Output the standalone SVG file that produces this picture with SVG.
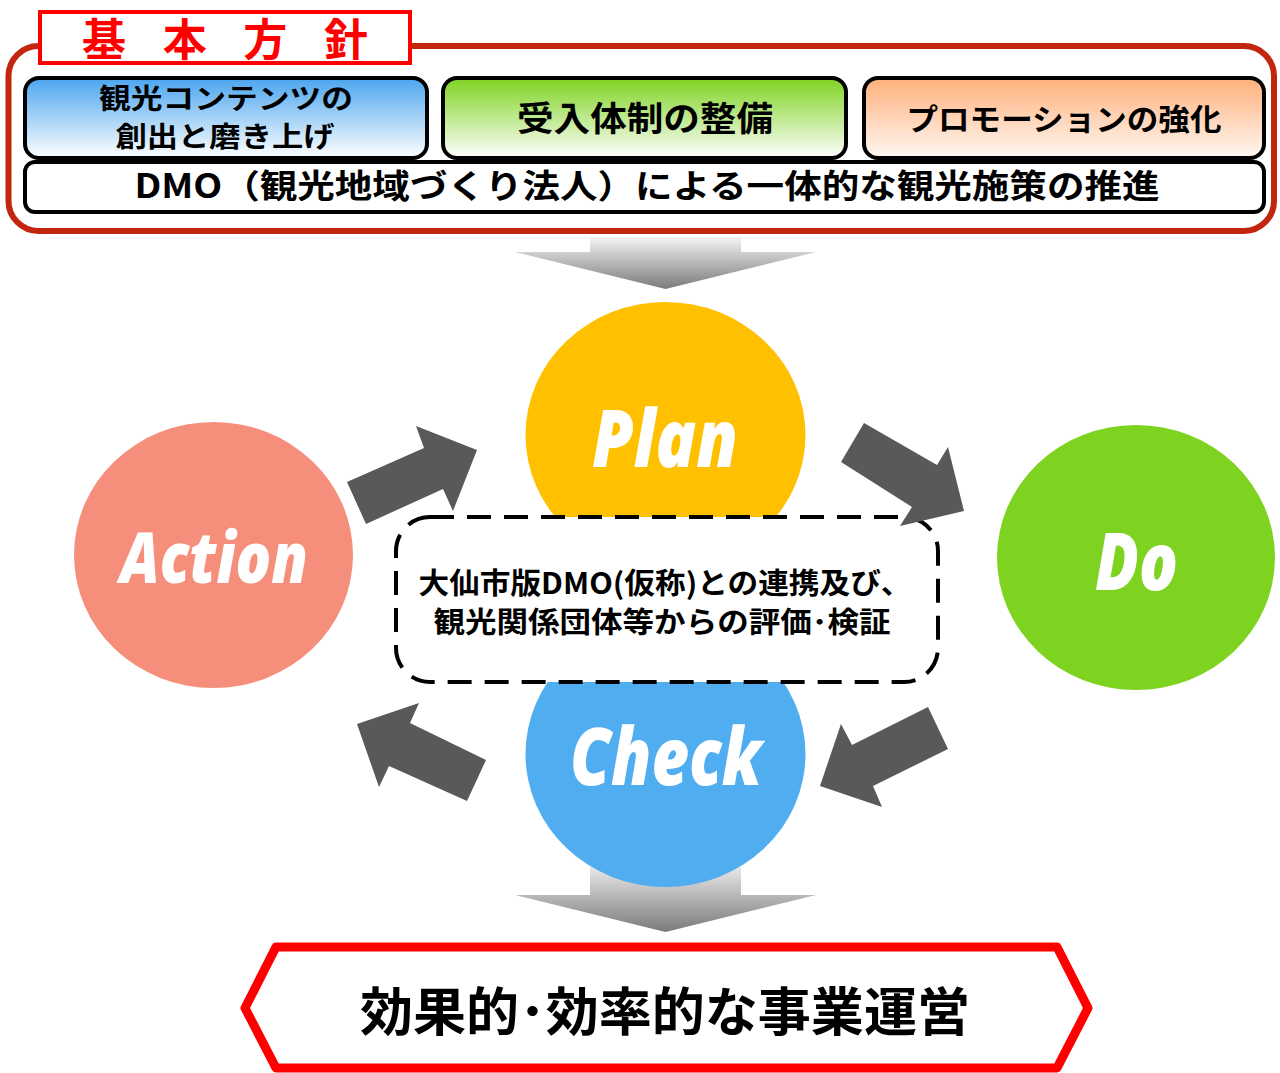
<svg xmlns="http://www.w3.org/2000/svg" width="1280" height="1073" viewBox="0 0 1280 1073">
<defs>
<linearGradient id="gBlue" x1="0" y1="0" x2="0" y2="1"><stop offset="0" stop-color="#4ba5ef"/><stop offset="1" stop-color="#ffffff"/></linearGradient>
<linearGradient id="gGreen" x1="0" y1="0" x2="0" y2="1"><stop offset="0" stop-color="#7ed321"/><stop offset="1" stop-color="#ffffff"/></linearGradient>
<linearGradient id="gOrange" x1="0" y1="0" x2="0" y2="1"><stop offset="0" stop-color="#ffb07a"/><stop offset="1" stop-color="#fff8f3"/></linearGradient>
<linearGradient id="gGray" x1="0" y1="0" x2="0" y2="1"><stop offset="0" stop-color="#f4f4f4"/><stop offset="1" stop-color="#7a7a7a"/></linearGradient>
<style>
.jp{font-family:"Noto Sans CJK JP","Noto Sans CJK SC",sans-serif;font-weight:700;fill:#000;text-anchor:middle}
.en{font-family:"Open Sans","Liberation Sans",sans-serif;font-weight:800;font-style:italic;fill:#fff;text-anchor:middle}
.box{stroke:#000;stroke-width:4}
.arr{fill:#595959}
</style>
</defs>
<rect width="1280" height="1073" fill="#fff"/>

<g id="frame">
<rect x="8.5" y="46" width="1265.5" height="185" rx="30" fill="#fff" stroke="#c3260f" stroke-width="6"/>
</g>
<g id="title">
<rect x="40" y="12" width="370" height="51" fill="#fff" stroke="#ff0000" stroke-width="4"/>
<text class="jp" x="225" y="56" font-size="44" style="fill:#ff0000" textLength="286" lengthAdjust="spacing">基 本 方 針</text>
</g>
<g id="box-contents">
<rect class="box" x="25" y="78" width="402" height="80" rx="14" fill="url(#gBlue)"/>
<text class="jp" x="226" y="109" font-size="28" textLength="254" lengthAdjust="spacingAndGlyphs">観光コンテンツの</text>
<text class="jp" x="225" y="147" font-size="28" textLength="219" lengthAdjust="spacingAndGlyphs">創出と磨き上げ</text>
</g>
<g id="box-ukeire">
<rect class="box" x="443" y="78" width="403" height="80" rx="14" fill="url(#gGreen)"/>
<text class="jp" x="645" y="131" font-size="34" textLength="256" lengthAdjust="spacingAndGlyphs">受入体制の整備</text>
</g>
<g id="box-promo">
<rect class="box" x="864" y="78" width="400" height="80" rx="14" fill="url(#gOrange)"/>
<text class="jp" x="1064" y="129.5" font-size="30" textLength="315" lengthAdjust="spacingAndGlyphs">プロモーションの強化</text>
</g>
<g id="box-dmo">
<rect class="box" x="25" y="162" width="1239" height="50" rx="10" fill="#fff"/>
<text class="jp" x="647" y="198" font-size="33" textLength="1025" lengthAdjust="spacingAndGlyphs">DMO（観光地域づくり法人）による一体的な観光施策の推進</text>
</g>

<g id="arrow-top">
<path d="M590,237 H741 V252 H816 L665.5,289 L515,252 H590 Z" fill="url(#gGray)"/>
</g>
<g id="arrow-bottom">
<path d="M590,860 H741 V895 H816 L665.5,932 L515,895 H590 Z" fill="url(#gGray)"/>
</g>

<g id="plan">
<ellipse cx="665.5" cy="435" rx="140" ry="133" fill="#ffc000"/>
<text class="en" x="665" y="467" font-size="80" textLength="146" lengthAdjust="spacingAndGlyphs">Plan</text>
</g>
<g id="check">
<ellipse cx="665.5" cy="754" rx="140" ry="133" fill="#4fadf0"/>
<text class="en" x="666" y="785" font-size="80" textLength="192" lengthAdjust="spacingAndGlyphs">Check</text>
</g>
<g id="do">
<ellipse cx="1136" cy="557.5" rx="139" ry="132.5" fill="#7ed321"/>
<text class="en" x="1136.5" y="590" font-size="80" textLength="83" lengthAdjust="spacingAndGlyphs">Do</text>
</g>
<g id="action">
<ellipse cx="213.5" cy="555" rx="139.5" ry="133" fill="#f68e7c"/>
<text class="en" x="214" y="583" font-size="70" textLength="188" lengthAdjust="spacingAndGlyphs">Action</text>
</g>

<g id="evaluation">
<rect x="396" y="517" width="542" height="165" rx="34" fill="#fff" stroke="#000" stroke-width="4" stroke-dasharray="24 13"/>
<text class="jp" x="665" y="594" font-size="29" textLength="493" lengthAdjust="spacingAndGlyphs">大仙市版DMO(仮称)との連携及び、</text>
<text class="jp" x="662" y="633" font-size="29" textLength="457" lengthAdjust="spacingAndGlyphs">観光関係団体等からの評価･検証</text>
</g>

<g id="connectors">
<polygon class="arr" points="347,482 424,448 416,426 477,450 453,511 443,489 366,524"/>
<polygon class="arr" points="864,423 937,465 948,447 964,511 900,526 912,507 841,462"/>
<polygon class="arr" points="928,707 948,749 873,786 882,807 820,786 841,724 852,745"/>
<polygon class="arr" points="486,760 467,801 389,766 379,787 357,724 419,703 410,723"/>
</g>

<g id="result">
<polygon points="245,1008 276,947 1057,947 1088,1008 1057,1068 276,1068" fill="#fff" stroke="#ff0000" stroke-width="9" stroke-linejoin="round"/>
<text class="jp" x="665" y="1031" font-size="52" textLength="610" lengthAdjust="spacingAndGlyphs">効果的･効率的な事業運営</text>
</g>
</svg>
